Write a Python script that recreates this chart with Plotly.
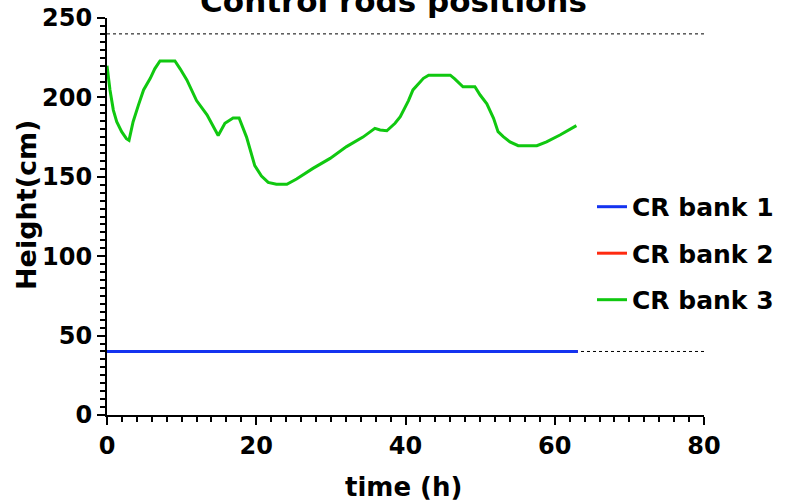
import plotly.graph_objects as go

# Control rod bank positions over time
time_bank3 = [0, 0.4, 0.85, 1.3, 1.96, 2.6, 2.95, 3.5, 4.2, 4.9, 5.8, 6.4, 7.1, 9.1, 9.8,
              10.7, 12.0, 13.4, 14.5, 14.9, 15.8, 16.9, 17.7, 18.7, 19.8, 20.7, 21.6, 22.7,
              24.1, 25.4, 27.6, 29.9, 32.1, 34.3, 35.9, 36.6, 37.5, 38.6, 39.3, 40.4, 41.0,
              42.4, 43.1, 46.0, 46.6, 47.7, 49.3, 50.0, 50.9, 51.8, 52.4, 53.1, 54.0, 55.1,
              57.6, 58.9, 60.7, 62.9]
height_bank3 = [220, 204.7, 192, 184.7, 178.4, 174, 173, 184.7, 195, 204.7, 212, 218, 223, 223, 218,
                211, 198, 189, 179.5, 176, 183.7, 187, 187, 175, 157, 150.5, 146.5, 145.3,
                145.3, 148.6, 155.3, 161.6, 169, 175, 180.5, 179.5, 179, 183.7, 187.8, 198, 204.7,
                212, 214, 214, 211.6, 206.7, 206.7, 201.5, 196, 186.8, 178.4, 175.3, 172, 169.6,
                169.6, 172, 176.3, 182.2]

time_bank12 = [0, 63.1]
height_bank1 = [40, 40]
height_bank2 = [40, 40]

limit_levels = [240, 40]
x_range = [0, 80]
y_range = [0, 250]

FONT = "DejaVu Sans"

fig = go.Figure()
fig.add_trace(go.Scatter(x=time_bank12, y=height_bank2, mode="lines", name="CR bank 2",
                         line=dict(color="#FF2A10", width=3), legendrank=2, legendgroup="b2"))
fig.add_trace(go.Scatter(x=time_bank12, y=height_bank1, mode="lines", name="CR bank 1",
                         line=dict(color="#1433F0", width=3), legendrank=1, legendgroup="b1"))
fig.add_trace(go.Scatter(x=time_bank3, y=height_bank3, mode="lines", name="CR bank 3",
                         line=dict(color="#10C810", width=3), legendrank=3, legendgroup="b3"))

for lvl in limit_levels:
    fig.add_shape(type="line", xref="x", yref="y", x0=x_range[0], x1=x_range[1], y0=lvl, y1=lvl,
                  line=dict(color="black", width=1, dash="dot"), layer="below")

axis_common = dict(
    showgrid=False, zeroline=False, showline=True, linecolor="black", linewidth=2,
    ticks="outside", ticklen=8, tickwidth=2, tickcolor="black",
    tickfont=dict(family=FONT, size=24, color="black", weight=700),
)

fig.update_xaxes(range=x_range, dtick=20, tick0=0,
                 minor=dict(dtick=2, ticks="outside", ticklen=5, tickwidth=2, tickcolor="black"),
                 **axis_common)
fig.update_yaxes(range=y_range, dtick=50, tick0=0,
                 minor=dict(dtick=5, ticks="outside", ticklen=5, tickwidth=2, tickcolor="black"),
                 **axis_common)

# Axis titles placed as annotations for precise positioning
fig.add_annotation(text="time (h)", xref="paper", yref="paper", x=0.497, y=-0.1814,
                   xanchor="center", yanchor="middle", showarrow=False,
                   font=dict(family=FONT, size=26, color="black", weight=700))
fig.add_annotation(text="Height(cm)", xref="paper", yref="paper", x=-0.134, y=0.529,
                   xanchor="center", yanchor="middle", textangle=-90, showarrow=False,
                   font=dict(family=FONT, size=27, color="black", weight=700))

fig.update_layout(
    width=787, height=502,
    margin=dict(l=107, r=83, t=18, b=87, autoexpand=False),
    plot_bgcolor="white", paper_bgcolor="white",
    title=dict(text="Control rods positions", x=0.5, xref="container", xanchor="center",
               y=1 - 12 / 502, yref="container", yanchor="bottom",
               font=dict(family=FONT, size=31, color="black", weight=700)),
    legend=dict(x=0.8124, xanchor="left", y=0.582, yanchor="top", tracegroupgap=11,
                bgcolor="rgba(0,0,0,0)",
                font=dict(family=FONT, size=25, color="black", weight=700)),
)

fig.write_html("out.html")
